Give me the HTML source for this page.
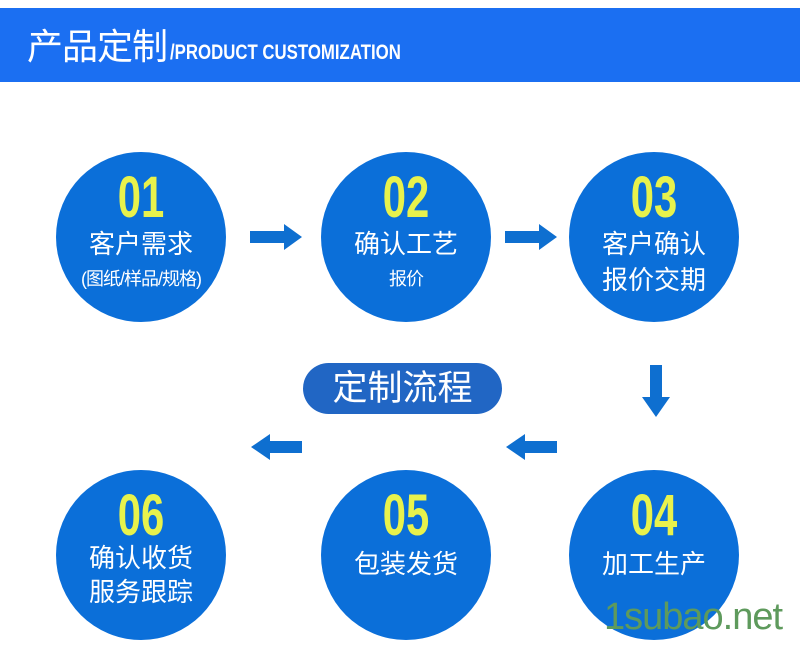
<!DOCTYPE html>
<html><head><meta charset="utf-8"><style>
body{margin:0;width:800px;height:664px;background:#fff;position:relative;overflow:hidden;font-family:"Liberation Sans","Noto Sans CJK SC",sans-serif}
.hdr{position:absolute;left:0;top:8px;width:800px;height:74px;background:#1b6ff2;color:#fff}
.hdr .cn{position:absolute;left:27px;top:17px;font-size:36px;line-height:44px;letter-spacing:-1px}
.hdr .en{position:absolute;left:170px;top:33px;font-size:21px;line-height:24px;font-weight:bold;transform:scaleX(.8);transform-origin:left;white-space:nowrap}
.c{position:absolute;width:170px;height:170px;border-radius:50%;background:#0b6fd9;color:#fff;text-align:center}
.n{position:absolute;left:0;width:100%;top:16px;font-size:58px;font-weight:bold;color:#e8f24c;transform:scaleX(.72);line-height:60px}
.t{position:absolute;left:0;width:100%;font-size:26px;line-height:32px}
.s{position:absolute;left:0;width:100%;font-size:18px;line-height:22px;letter-spacing:-1px}
.pill{position:absolute;left:303px;top:363px;width:199px;height:51px;border-radius:26px;background:#2166c4;color:#fff;font-size:35px;line-height:51px;text-align:center}
.wm{position:absolute;left:604px;top:596px;font-size:38px;color:#5e9a5c;letter-spacing:-1px}
</style></head><body>
<div class="hdr"><span class="cn">产品定制</span><span class="en">/PRODUCT CUSTOMIZATION</span></div>
<div class="c" style="left:56px;top:152px"><div class="n">01</div><div class="t" style="top:76px">客户需求</div><div class="s" style="top:116px">(图纸/样品/规格)</div></div>
<div class="c" style="left:321px;top:152px"><div class="n">02</div><div class="t" style="top:76px">确认工艺</div><div class="s" style="top:116px">报价</div></div>
<div class="c" style="left:569px;top:152px"><div class="n">03</div><div class="t" style="top:76px">客户确认</div><div class="t" style="top:112px">报价交期</div></div>
<div class="c" style="left:56px;top:470px"><div class="n">06</div><div class="t" style="top:72px">确认收货</div><div class="t" style="top:106px">服务跟踪</div></div>
<div class="c" style="left:321px;top:470px"><div class="n">05</div><div class="t" style="top:78px">包装发货</div></div>
<div class="c" style="left:569px;top:470px"><div class="n">04</div><div class="t" style="top:78px">加工生产</div></div>
<div class="pill">定制流程</div>
<svg width="800" height="664" style="position:absolute;left:0;top:0">
<g fill="#0e6fd0">
<polygon points="250,231 284,231 284,224 302,237 284,250 284,243 250,243"/>
<polygon points="505,231 539,231 539,224 557,237 539,250 539,243 505,243"/>
<polygon points="650,365 662,365 662,397 670,397 656,417 642,397 650,397"/>
<polygon points="302,441 270,441 270,434 251,447 270,460 270,453 302,453"/>
<polygon points="557,441 525,441 525,434 506,447 525,460 525,453 557,453"/>
</g></svg>
<div class="wm">1subao.net</div>
</body></html>
